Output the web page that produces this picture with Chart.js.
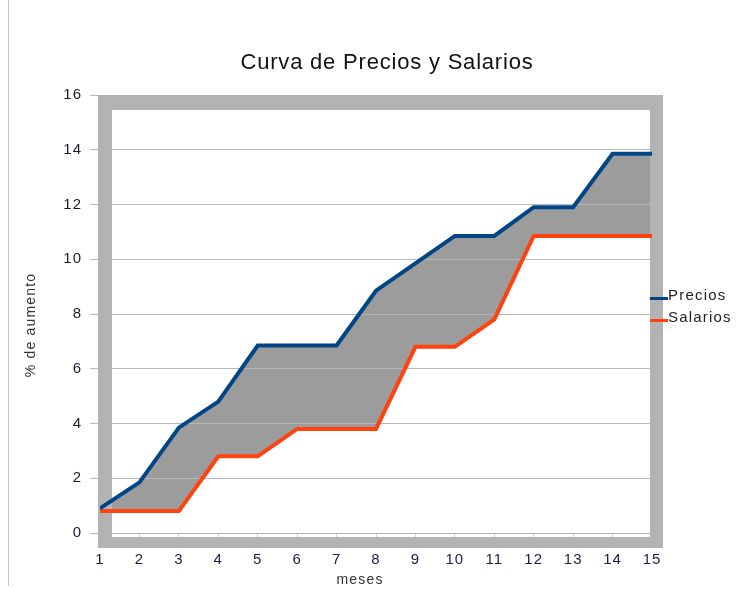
<!DOCTYPE html>
<html>
<head>
<meta charset="utf-8">
<script src="https://cdn.jsdelivr.net/npm/chart.js@4/dist/chart.umd.min.js"></script>
<style>
  html, body { margin: 0; padding: 0; background: #fff; }
  #wrap { position: relative; width: 736px; height: 590px; }
  #edge { position: absolute; left: 8px; top: 0; width: 1px; height: 586px; background: #c8c8c8; }
  canvas { position: absolute; left: 0; top: 0; }
</style>
</head>
<body>
<div id="wrap">
  <div id="edge"></div>
  <canvas id="c" width="736" height="590"></canvas>
</div>
<script>
const meses = [1,2,3,4,5,6,7,8,9,10,11,12,13,14,15];
const precios = [0.9,1.85,3.85,4.8,6.85,6.85,6.85,8.85,9.85,10.85,10.85,11.9,11.9,13.85,13.85];
const salarios = [0.8,0.8,0.8,2.8,2.8,3.8,3.8,3.8,6.8,6.8,7.8,10.85,10.85,10.85,10.85];
const yTicks = [0,2,4,6,8,10,12,14,16];
const seriesNames = ['Precios','Salarios'];
const seriesColors = ['#004586','#ff420e'];
const chartTitle = 'Curva de Precios y Salarios';
const xTitle = 'meses';
const yTitle = '% de aumento';

const FONT = "'Liberation Sans', Arial, sans-serif";

const spacingPlugin = {
  id: 'spacing',
  beforeDraw(chart) { chart.ctx.letterSpacing = '1px'; }
};

const framePlugin = {
  id: 'frame',
  beforeDatasetsDraw(chart) {
    const x = chart.scales.x, y = chart.scales.y, ctx = chart.ctx;
    const l = x.getPixelForValue(meses[0]);
    const r = x.getPixelForValue(meses[meses.length-1]);
    const t = y.getPixelForValue(16);
    const b = y.getPixelForValue(0);
    ctx.save();
    ctx.fillStyle = '#b3b3b3';
    ctx.fillRect(l-2, t, 14, b+15-t);         // left
    ctx.fillRect(l-2, t, r+11-(l-2), 15);      // top
    ctx.fillRect(r-2, t, 13, b+15-t);          // right
    ctx.fillRect(l-2, b+4, r+11-(l-2), 11);    // bottom
    ctx.restore();
  }
};

const textPlugin = {
  id: 'texts',
  afterDraw(chart) {
    const ctx = chart.ctx;
    ctx.save();
    // title
    ctx.letterSpacing = '0.8px';
    ctx.font = "22px " + FONT;
    ctx.fillStyle = '#111';
    ctx.textAlign = 'center';
    ctx.textBaseline = 'alphabetic';
    ctx.fillText(chartTitle, 387, 69);
    // x title
    ctx.letterSpacing = '1.2px';
    ctx.font = "14px " + FONT;
    ctx.fillStyle = '#333';
    ctx.fillText(xTitle, 360, 584);
    // y title
    ctx.save();
    ctx.translate(31, 325);
    ctx.rotate(-Math.PI/2);
    ctx.textBaseline = 'middle';
    ctx.fillText(yTitle, 0, 0);
    ctx.restore();
    // legend
    ctx.font = "15px " + FONT;
    ctx.letterSpacing = '1.2px';
    ctx.textAlign = 'left';
    ctx.textBaseline = 'middle';
    const ys = [296, 318];
    chart.data.datasets.forEach((ds, i) => {
      ctx.strokeStyle = ds.borderColor;
      ctx.lineWidth = 3;
      ctx.beginPath();
      ctx.moveTo(650, ys[i] + 2.5);
      ctx.lineTo(668, ys[i] + 2.5);
      ctx.stroke();
      ctx.fillStyle = '#222';
      ctx.fillText(ds.label, 668, ys[i]);
    });
    ctx.restore();
  }
};

new Chart(document.getElementById('c'), {
  type: 'line',
  data: {
    labels: meses,
    datasets: [
      { label: seriesNames[0], data: meses.map((m,i)=>({x:m,y:precios[i]})), borderColor: seriesColors[0],
        backgroundColor: '#9c9c9c', fill: '+1', borderWidth: 4, pointRadius: 0, tension: 0, borderJoinStyle: 'miter' },
      { label: seriesNames[1], data: meses.map((m,i)=>({x:m,y:salarios[i]})), borderColor: seriesColors[1],
        backgroundColor: '#9c9c9c', fill: false, borderWidth: 4, pointRadius: 0, tension: 0, borderJoinStyle: 'miter' }
    ]
  },
  options: {
    responsive: false,
    animation: false,
    devicePixelRatio: 1,
    layout: { padding: { left: 0, right: 84, top: 95, bottom: 0 } },
    plugins: {
      legend: { display: false },
      tooltip: { enabled: false },
      title: { display: false },
      filler: { drawTime: 'beforeDraw' }
    },
    scales: {
      x: {
        type: 'linear', min: 1, max: 15,
        afterBuildTicks(s) { s.ticks = meses.map(v => ({ value: v })); },
        afterFit(s) { s.height = 57; },
        grid: { drawOnChartArea: false, drawTicks: true, tickLength: 4, color: '#cfcfcf' },
        border: { display: true, color: '#b3b3b3' },
        ticks: { color: '#1c1c48', font: { family: FONT, size: 15 }, padding: 14, maxRotation: 0, autoSkip: false },
        title: { display: false }
      },
      y: {
        min: 0, max: 16,
        afterBuildTicks(s) { s.ticks = yTicks.map(v => ({ value: v })); },
        afterFit(s) { s.width = 100; },
        grid: { color: '#b8b8b8', tickLength: 10, lineWidth: 1 },
        border: { display: false },
        ticks: { color: '#1c1c2c', font: { family: FONT, size: 15 }, padding: 8 },
        title: { display: false }
      }
    }
  },
  plugins: [spacingPlugin, framePlugin, textPlugin]
});
</script>
</body>
</html>
